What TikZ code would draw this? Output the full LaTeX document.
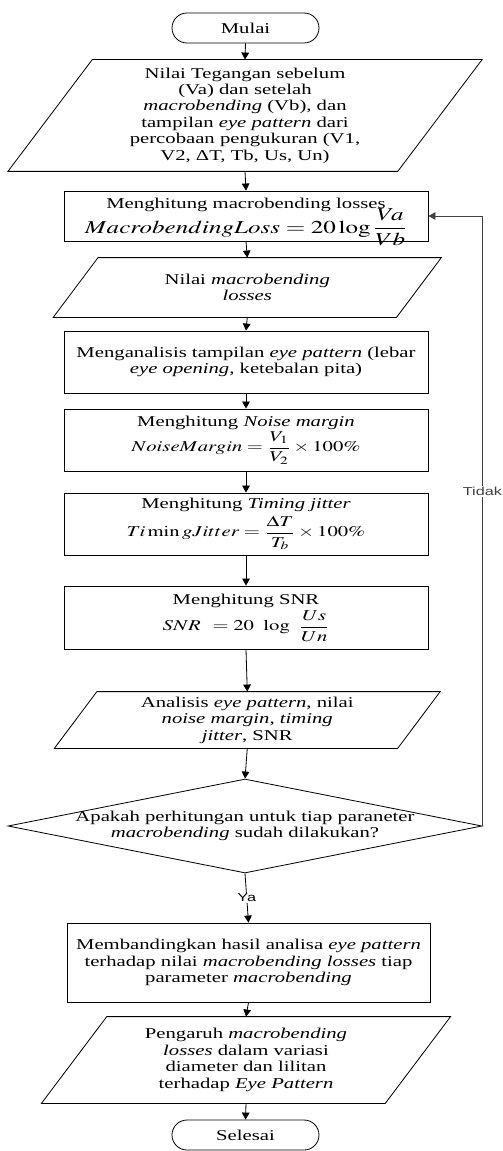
\documentclass[tikz,border=0pt]{standalone}
\usepackage{mathptmx}
\usepackage[no-math]{fontspec}
\setmainfont[FakeStretch=1.38]{Liberation Serif}
\newfontfamily\arialfont[FakeStretch=1.4]{Liberation Sans}
\usepackage{graphicx}
\usetikzlibrary{arrows.meta,shapes.geometric,shapes.misc}
\newcommand{\fml}[1]{\scalebox{1.38}[1]{$\displaystyle #1$}}

\begin{document}
\begin{tikzpicture}[
  line width=0.7pt,
  font=\fontsize{12.8}{14}\selectfont,
  >={Triangle[length=6pt,width=6.5pt]},
  terminal/.style={draw,rounded rectangle,minimum width=4.410cm,minimum height=0.900cm,inner sep=0pt},
  process/.style={draw,rectangle,minimum width=10.920cm,align=center,inner sep=0pt},
  data/.style 2 args={rectangle,align=center,inner sep=0pt,minimum width=#1,minimum height=#2,
    append after command={\pgfextra{\draw ([xshift={0.38*#2}]\tikzlastnode.north west)
      -- ([xshift={0.38*#2}]\tikzlastnode.north east) -- ([xshift={-0.38*#2}]\tikzlastnode.south east)
      -- ([xshift={-0.38*#2}]\tikzlastnode.south west) -- cycle;}}},
  decision/.style={draw,diamond,minimum width=14.220cm,minimum height=2.820cm,inner sep=0pt},
  lbl/.style={fill=white,font=\arialfont\fontsize{9.9}{11}\selectfont,inner sep=1pt}
]
\useasboundingbox (0,0) rectangle (15.060,-34.530);
\node[terminal] (mulai) at (7.365,-0.840) {Mulai};
\node[data={11.670cm}{3.330cm}] (input) at (7.350,-3.465)
  {Nilai Tegangan sebelum\\(Va) dan setelah\\\textit{macrobending} (Vb), dan\\tampilan \textit{eye pattern} dari\\percobaan pengukuran (V1,\\V2, ΔT, Tb, Us, Un)};
\node[process,minimum height=1.500cm] (hitungloss) at (7.380,-6.480)
  {Menghitung macrobending losses\\[-3pt]\raisebox{0pt}[\height][1pt]{\fontsize{15.5}{16}\selectfont\fml{MacrobendingLoss=20\log\frac{Va}{Vb}}}};
\node[data={10.275cm}{1.770cm}] (nilailoss) at (7.418,-8.625)
  {Nilai \textit{macrobending}\\\textit{losses}};
\node[process,minimum height=1.860cm] (analisis) at (7.380,-10.860)
  {Menganalisis tampilan \textit{eye pattern} (lebar\\\textit{eye opening}, ketebalan pita)};
\node[process,minimum height=1.860cm] (noise) at (7.380,-13.200)
  {Menghitung \textit{Noise margin}\\[1pt]\fml{NoiseMargin=\frac{V_1}{V_2}\times 100\%}};
\node[process,minimum height=1.860cm] (jitter) at (7.380,-15.720)
  {Menghitung \textit{Timing jitter}\\[3pt]\fml{Ti\min gJitter=\frac{\Delta T}{T_b}\times 100\%}};
\node[process,minimum height=1.890cm] (snr) at (7.380,-18.525)
  {Menghitung SNR\\[2pt]\fml{SNR\ = 20\ \log\ \frac{Us}{Un}}};
\node[data={10.275cm}{1.680cm}] (hasil) at (7.418,-21.600)
  {Analisis \textit{eye pattern}, nilai\\\textit{noise margin}, \textit{timing}\\\textit{jitter}, SNR};
\node[decision] (cek) at (7.350,-24.780) {};
\node[align=center] (cektext) at (cek.center)
  {Apakah perhitungan untuk tiap paraneter\\\textit{macrobending} sudah dilakukan?};
\node[process,minimum width=10.890cm,minimum height=2.370cm] (banding) at (7.455,-28.875)
  {Membandingkan hasil analisa \textit{eye pattern}\\terhadap nilai \textit{macrobending losses} tiap\\parameter \textit{macrobending}};
\node[data={10.290cm}{2.580cm}] (pengaruh) at (7.380,-31.800)
  {Pengaruh \textit{macrobending}\\\textit{losses} dalam variasi\\diameter dan lilitan\\terhadap \textit{Eye Pattern}};
\node[terminal] (selesai) at (7.365,-34.050) {Selesai};
\draw[->] (mulai.south) -- (input.north);
\draw[->] (input.south) -- (hitungloss.north);
\draw[->] (hitungloss.south) -- (nilailoss.north);
\draw[->] (nilailoss.south) -- (analisis.north);
\draw[->] (analisis.south) -- (noise.north);
\draw[->] (noise.south) -- (jitter.north);
\draw[->] (jitter.south) -- (snr.north);
\draw[->] (snr.south) -- (hasil.north);
\draw[->] (hasil.south) -- (cek.north);
\draw[->] (cek.south) -- node[lbl] {Ya} (banding.north);
\draw[->] (banding.south) -- (pengaruh.north);
\draw[->] (pengaruh.south) -- (selesai.north);
\draw[->,black!75] (cek.east) |- node[lbl,pos=0.274] {Tidak} (hitungloss.east);
\end{tikzpicture}
\end{document}
